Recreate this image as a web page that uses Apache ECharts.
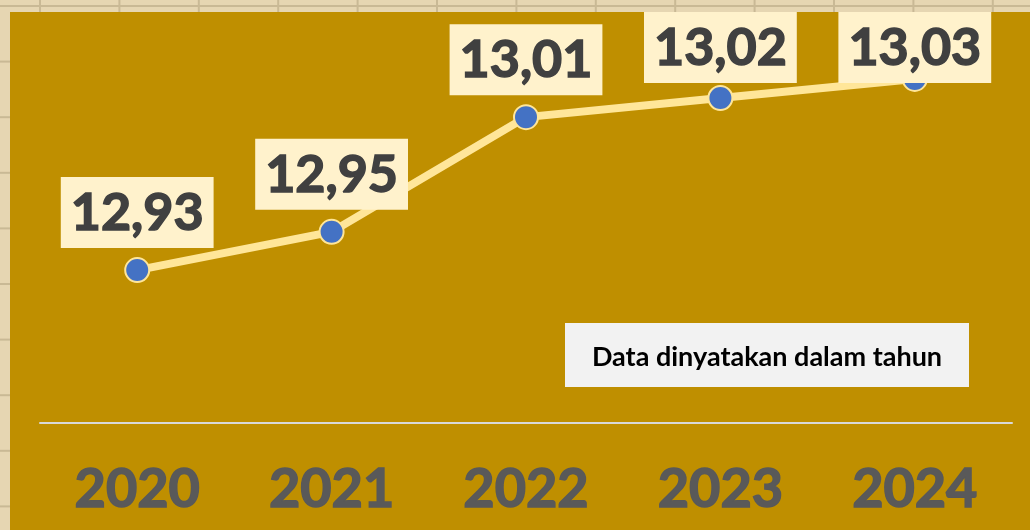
<!DOCTYPE html>
<html>
<head>
<meta charset="utf-8">
<style>
  html, body { margin: 0; padding: 0; background: #E6D6B2; }
  #chart { width: 1030px; height: 530px; }
</style>
<script src="https://cdn.jsdelivr.net/npm/echarts@6/dist/echarts.min.js"></script>
</head>
<body>
<div id="chart"></div>
<script>
const years = ['2020', '2021', '2022', '2023', '2024']
const values = [12.93, 12.95, 13.01, 13.02, 13.03]
// labels near the top get pushed down so they stay inside the panel
const labelShift = [0, 0, 0, 7, 26]

const chart = echarts.init(document.getElementById('chart'))

// sheet grid lines behind the panel (decoration only)
const sheetLines = []
for (let x = 40; x < 1030; x += 79.4) {
  sheetLines.push({ type: 'line', shape: { x1: x, y1: 0, x2: x, y2: 12 }, style: { stroke: '#C9B995', lineWidth: 2 }, z: 0 })
}
for (let y = 6; y < 530; y += 55.6) {
  sheetLines.push({ type: 'line', shape: { x1: 0, y1: y, x2: y < 12 ? 1030 : 10, y2: y }, style: { stroke: '#C9B995', lineWidth: 2 }, z: 0 })
}

chart.setOption({
  backgroundColor: '#E6D6B2',
  animation: false,
  graphic: [
    ...sheetLines,
    {
      type: 'rect',
      shape: { x: 10, y: 12, width: 1020, height: 518 },
      style: { fill: '#BF8F00' },
      z: 1
    },
    {
      type: 'rect',
      shape: { x: 565, y: 323, width: 404, height: 64 },
      style: { fill: '#F2F2F2' },
      z: 5
    },
    {
      type: 'text',
      x: 767,
      y: 357,
      style: {
        text: 'Data dinyatakan dalam tahun',
        fill: '#000000',
        font: 'bold 27px Lato',
        align: 'center',
        verticalAlign: 'middle'
      },
      z: 6
    }
  ],
  grid: {
    left: 40,
    right: 18,
    top: 12,
    bottom: 107
  },
  xAxis: {
    type: 'category',
    data: years,
    boundaryGap: true,
    axisLine: { lineStyle: { color: '#D9D9D9', width: 2 } },
    axisTick: { show: false },
    axisLabel: {
      margin: 40,
      color: '#595959',
      fontFamily: 'Lato',
      fontWeight: 'bold',
      fontSize: 54,
      textBorderColor: '#595959',
      textBorderWidth: 1.5
    },
    z: 3
  },
  yAxis: {
    type: 'value',
    min: 12.85,
    max: 13.065,
    show: false,
    splitLine: { show: false }
  },
  series: [{
    type: 'line',
    data: values.map((v, i) => ({
      value: v,
      label: { offset: [0, labelShift[i]] }
    })),
    z: 4,
    lineStyle: { color: '#FFE699', width: 8 },
    symbol: 'circle',
    symbolSize: 24,
    itemStyle: { color: '#4472C4', borderColor: '#FFE699', borderWidth: 2 },
    label: {
      show: true,
      position: 'top',
      distance: 9,
      formatter: p => p.value.toFixed(2).replace('.', ','),
      color: '#404040',
      fontFamily: 'Lato',
      fontWeight: 'bold',
      fontSize: 52,
      lineHeight: 53,
      textBorderColor: '#404040',
      textBorderWidth: 1.5,
      backgroundColor: '#FFF2CC',
      padding: [10, 10, 8, 10]
    }
  }]
})
</script>
</body>
</html>
